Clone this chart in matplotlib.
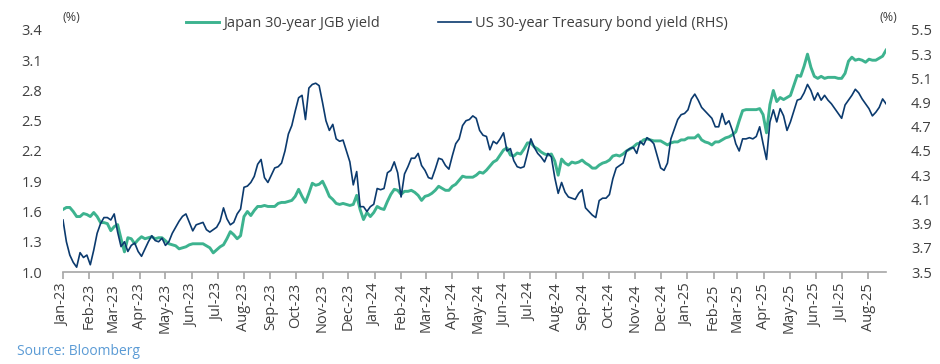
import pandas as pd
import matplotlib
matplotlib.use("Agg")
import matplotlib.pyplot as plt
import matplotlib.dates as mdates
from matplotlib.ticker import FixedLocator, FormatStrFormatter

plt.rcParams['font.family'] = ['Open Sans', 'DejaVu Sans']

# observations every 4 days from 1 Jan 2023
start_date = "2023-01-01"
step = "4D"

japan_30y = [
    1.62, 1.64, 1.64, 1.60, 1.55, 1.55, 1.58, 1.57, 1.55, 1.59,
    1.55, 1.49, 1.49, 1.48, 1.41, 1.45, 1.47, 1.33, 1.20, 1.34,
    1.33, 1.28, 1.32, 1.35, 1.33, 1.34, 1.35, 1.33, 1.34, 1.34,
    1.31, 1.28, 1.27, 1.26, 1.23, 1.24, 1.25, 1.27, 1.28, 1.28,
    1.28, 1.28, 1.26, 1.24, 1.19, 1.22, 1.25, 1.27, 1.33, 1.40,
    1.37, 1.33, 1.36, 1.55, 1.60, 1.56, 1.61, 1.65, 1.65, 1.66,
    1.65, 1.65, 1.65, 1.68, 1.69, 1.69, 1.70, 1.71, 1.75, 1.82,
    1.75, 1.69, 1.78, 1.88, 1.86, 1.87, 1.90, 1.83, 1.75, 1.72,
    1.68, 1.67, 1.68, 1.67, 1.66, 1.67, 1.76, 1.62, 1.52, 1.59,
    1.55, 1.59, 1.65, 1.63, 1.62, 1.70, 1.77, 1.82, 1.81, 1.77,
    1.80, 1.80, 1.81, 1.79, 1.76, 1.71, 1.75, 1.76, 1.78, 1.81,
    1.85, 1.83, 1.81, 1.81, 1.85, 1.87, 1.91, 1.95, 1.94, 1.94,
    1.94, 1.96, 1.99, 1.98, 2.01, 2.05, 2.09, 2.11, 2.16, 2.21,
    2.23, 2.16, 2.15, 2.18, 2.17, 2.22, 2.28, 2.28, 2.24, 2.22,
    2.19, 2.17, 2.16, 2.17, 2.10, 1.96, 2.12, 2.08, 2.06, 2.09,
    2.08, 2.09, 2.11, 2.08, 2.06, 2.03, 2.03, 2.06, 2.08, 2.09,
    2.11, 2.15, 2.16, 2.15, 2.17, 2.20, 2.22, 2.24, 2.27, 2.28,
    2.31, 2.32, 2.31, 2.30, 2.30, 2.30, 2.28, 2.26, 2.28, 2.29,
    2.29, 2.31, 2.31, 2.33, 2.33, 2.33, 2.36, 2.31, 2.29, 2.28,
    2.26, 2.29, 2.29, 2.31, 2.33, 2.34, 2.36, 2.39, 2.50, 2.60,
    2.61, 2.61, 2.61, 2.61, 2.62, 2.56, 2.38, 2.66, 2.80, 2.69,
    2.73, 2.71, 2.73, 2.75, 2.85, 2.95, 2.94, 3.04, 3.16, 3.03,
    2.94, 2.92, 2.94, 2.92, 2.93, 2.93, 2.93, 2.92, 2.92, 2.97,
    3.09, 3.13, 3.10, 3.11, 3.10, 3.08, 3.11, 3.10, 3.10, 3.12,
    3.14, 3.20,
]

us_30y = [
    3.93, 3.75, 3.64, 3.58, 3.54, 3.66, 3.62, 3.64, 3.56, 3.68,
    3.82, 3.90, 3.95, 3.95, 3.93, 3.98, 3.83, 3.71, 3.75, 3.67,
    3.72, 3.74, 3.67, 3.63, 3.69, 3.75, 3.80, 3.76, 3.75, 3.78,
    3.72, 3.75, 3.82, 3.87, 3.92, 3.96, 3.98, 3.91, 3.84, 3.89,
    3.90, 3.91, 3.85, 3.83, 3.85, 3.87, 3.92, 4.03, 3.94, 3.89,
    3.91, 3.98, 4.02, 4.20, 4.21, 4.24, 4.29, 4.39, 4.43, 4.28,
    4.24, 4.30, 4.36, 4.37, 4.40, 4.50, 4.64, 4.71, 4.83, 4.94,
    4.96, 4.76, 5.02, 5.05, 5.06, 5.04, 4.90, 4.75, 4.67, 4.72,
    4.60, 4.58, 4.59, 4.50, 4.41, 4.22, 4.33, 4.04, 4.04, 4.00,
    4.04, 4.06, 4.19, 4.18, 4.19, 4.32, 4.34, 4.41, 4.32, 4.12,
    4.31, 4.37, 4.44, 4.44, 4.48, 4.38, 4.34, 4.28, 4.27, 4.35,
    4.44, 4.43, 4.38, 4.35, 4.46, 4.56, 4.60, 4.71, 4.75, 4.76,
    4.79, 4.77, 4.67, 4.63, 4.62, 4.51, 4.58, 4.56, 4.60, 4.65,
    4.50, 4.52, 4.42, 4.37, 4.36, 4.37, 4.48, 4.60, 4.53, 4.48,
    4.45, 4.41, 4.48, 4.45, 4.28, 4.15, 4.24, 4.16, 4.12, 4.11,
    4.10, 4.15, 4.18, 4.03, 4.00, 3.97, 3.95, 4.09, 4.11, 4.11,
    4.14, 4.27, 4.36, 4.38, 4.40, 4.50, 4.52, 4.53, 4.48, 4.58,
    4.55, 4.61, 4.59, 4.56, 4.46, 4.36, 4.34, 4.40, 4.60, 4.68,
    4.76, 4.80, 4.81, 4.84, 4.93, 4.97, 4.92, 4.86, 4.83, 4.80,
    4.77, 4.70, 4.70, 4.81, 4.72, 4.75, 4.67, 4.56, 4.50, 4.60,
    4.60, 4.61, 4.60, 4.62, 4.70, 4.56, 4.43, 4.74, 4.84, 4.74,
    4.85, 4.79, 4.67, 4.74, 4.83, 4.92, 4.93, 4.98, 5.05, 5.00,
    4.92, 4.98, 4.92, 4.96, 4.92, 4.89, 4.85, 4.81, 4.77, 4.88,
    4.92, 4.96, 5.01, 4.98, 4.93, 4.89, 4.85, 4.79, 4.82, 4.86,
    4.93, 4.89,
]

left_ticks = [1.0, 1.3, 1.6, 1.9, 2.2, 2.5, 2.8, 3.1, 3.4]
right_ticks = [3.5, 3.7, 3.9, 4.1, 4.3, 4.5, 4.7, 4.9, 5.1, 5.3, 5.5]

dates = pd.date_range(start_date, periods=len(japan_30y), freq=step)

green = "#3db38f"
navy = "#0b3a6e"
text_col = "#404040"
axis_col = "#a6a6a6"

fig = plt.figure(figsize=(9.4, 3.64), dpi=100)
ax = fig.add_axes([0.067, 0.2527, 0.8756, 0.665])
ax2 = ax.twinx()

l1, = ax.plot(dates, japan_30y, color=green, lw=2.1, label="Japan 30-year JGB yield")
l2, = ax2.plot(dates, us_30y, color=navy, lw=1.2, label="US 30-year Treasury bond yield (RHS)")

ax.set_xlim(dates[0], dates[-1])
ax.set_ylim(1.0, 3.4)
ax2.set_ylim(3.5, 5.5)
ax.yaxis.set_major_locator(FixedLocator(left_ticks))
ax2.yaxis.set_major_locator(FixedLocator(right_ticks))
ax.yaxis.set_major_formatter(FormatStrFormatter("%.1f"))
ax2.yaxis.set_major_formatter(FormatStrFormatter("%.1f"))

ax.xaxis.set_major_locator(mdates.MonthLocator())
ax.xaxis.set_major_formatter(mdates.DateFormatter("%b-%y"))
plt.setp(ax.get_xticklabels(), rotation=90, ha="center", va="top")

for a in (ax, ax2):
    for s in ("top", "left", "right"):
        a.spines[s].set_visible(False)
    a.spines["bottom"].set_color(axis_col)
    a.spines["bottom"].set_linewidth(1.2)
ax2.spines["bottom"].set_visible(False)

ax.tick_params(axis="x", colors=axis_col, length=5, width=1.2, labelcolor=text_col,
               labelsize=10.5, pad=3)
ax.tick_params(axis="y", length=0, labelcolor=text_col, labelsize=10.5, pad=15)
ax2.tick_params(axis="y", length=0, labelcolor=text_col, labelsize=10.5, pad=18)

fig.text(0.066, 0.953, "(%)", fontsize=9, color=text_col, ha="left", va="center")
fig.text(0.955, 0.953, "(%)", fontsize=9, color=text_col, ha="right", va="center")

fig.legend(handles=[l1, l2], loc="center", bbox_to_anchor=(0.486, 0.935), ncol=2,
           frameon=False, fontsize=10.5, handlelength=2.3, handletextpad=0.25,
           columnspacing=4.0, labelcolor=text_col)

fig.text(0.018, 0.033, "Source: Bloomberg", fontsize=10, color="#5b9bd5",
         ha="left", va="center")

fig.savefig("out.png", dpi=100)
